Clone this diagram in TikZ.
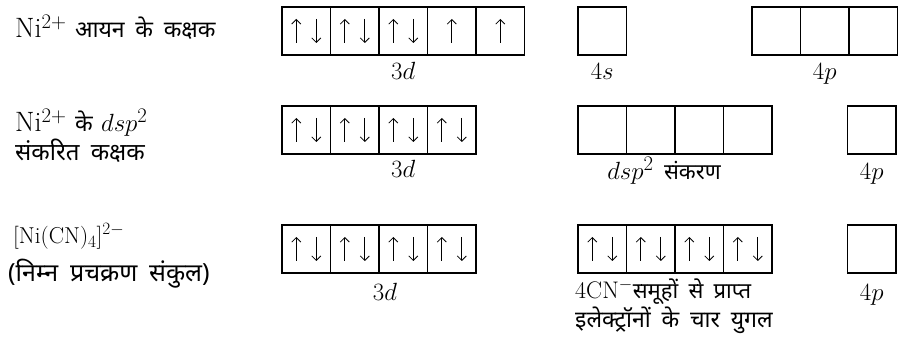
\documentclass[tikz,border=0pt]{standalone}
\usepackage{fontspec}
\newfontfamily\hindi[Script=Devanagari,WordSpace=1.8]{Noto Sans}
\usetikzlibrary{arrows.meta,positioning}
\newcommand\hin[2][23]{{\hindi\fontsize{#1}{26}\selectfont #2}}

\begin{document}
\begin{tikzpicture}[x=1pt,y=1pt]
\tikzset{
	orbital/.style={rectangle,draw,line width=1.5pt,minimum width=48.5pt,minimum height=48pt,inner sep=0,outer sep=0},
	electron/.style={line width=0.8pt,-{Straight Barb[length=4.5pt,width=9pt]}},
	sub label/.style={inner sep=0,anchor=base,font=\fontsize{28}{32}\selectfont},
	name label/.style={inner sep=0,anchor=base west,font=\fontsize{28}{32}\selectfont}
}
\useasboundingbox (0,0) rectangle (899,356);

% row 1: Ni2+ ion
\node[name label] (ion) at (15,318) {Ni$^{2+}$ \hin{आयन के कक्षक}};
\node[orbital] (a1) at (306.25,325) {};
\node[orbital,right=0pt of a1] (a2) {};
\node[orbital,right=0pt of a2] (a3) {};
\node[orbital,right=0pt of a3] (a4) {};
\node[orbital,right=0pt of a4] (a5) {};
\node[orbital] (s1) at (602.25,325) {};
\node[orbital] (p1) at (776.25,325) {};
\node[orbital,right=0pt of p1] (p2) {};
\node[orbital,right=0pt of p2] (p3) {};
\node[sub label] (a3d) at ([yshift=-25pt]a3.south) {$3d$};
\node[sub label] (a4s) at ([yshift=-25pt]s1.south) {$4s$};
\node[sub label] (a4p) at ([yshift=-25pt]p2.south) {$4p$};

% row 2: dsp2 hybrid
\node[name label] (hyb) at (15,224) {Ni$^{2+}$ \hin{के} $dsp^2$};
\node[name label] (hyb2) at (15,195) {\hin[24]{संकरित कक्षक}};
\node[orbital] (b1) at (306.25,226) {};
\node[orbital,right=0pt of b1] (b2) {};
\node[orbital,right=0pt of b2] (b3) {};
\node[orbital,right=0pt of b3] (b4) {};
\node[orbital] (h1) at (602.25,226) {};
\node[orbital,right=0pt of h1] (h2) {};
\node[orbital,right=0pt of h2] (h3) {};
\node[orbital,right=0pt of h3] (h4) {};
\node[orbital] (q1) at (871.75,226) {};
\node[sub label] (b3d) at ([yshift=-24pt]b3.south) {$3d$};
\node[sub label] (bdsp) at (664,176) {$dsp^2$\hin[22]{ संकरण}};
\node[sub label] (b4p) at ([yshift=-26pt]q1.south) {$4p$};

% row 3: low spin complex
\node[name label,font=\fontsize{23}{27}\selectfont] (cplx) at (13,112) {[Ni(CN)$_4$]$^{2-}$};
\node[name label] (cplx2) at (8,74) {\hin[25]{(निम्न प्रचक्रण संकुल)}};
\node[orbital] (c1) at (306.25,107) {};
\node[orbital,right=0pt of c1] (c2) {};
\node[orbital,right=0pt of c2] (c3) {};
\node[orbital,right=0pt of c3] (c4) {};
\node[orbital] (g1) at (602.25,107) {};
\node[orbital,right=0pt of g1] (g2) {};
\node[orbital,right=0pt of g2] (g3) {};
\node[orbital,right=0pt of g3] (g4) {};
\node[orbital] (r1) at (871.75,107) {};
\node[sub label] (c3d) at (385,56) {$3d$};
\node[sub label] (c4p) at ([yshift=-27pt]r1.south) {$4p$};
\node[name label,font=\fontsize{24}{28}\selectfont] (cn1) at (575,57) {4CN$^{-}$\hin[22]{समूहों से प्राप्त}};
\node[name label] (cn2) at (575,29) {\hin[23]{इलेक्ट्रॉनों के चार युगल}};

% electrons
\foreach \b in {a1,a2,a3,b1,b2,b3,b4,c1,c2,c3,c4,g1,g2,g3,g4}{
	\draw[electron] ([xshift=-10pt,yshift=-12pt]\b.center) -- ++(0,24);
	\draw[electron] ([xshift=10pt,yshift=12pt]\b.center) -- ++(0,-24);
}
\foreach \b in {a4,a5}
	\draw[electron] ([yshift=-12pt]\b.center) -- ++(0,24);
\end{tikzpicture}
\end{document}
